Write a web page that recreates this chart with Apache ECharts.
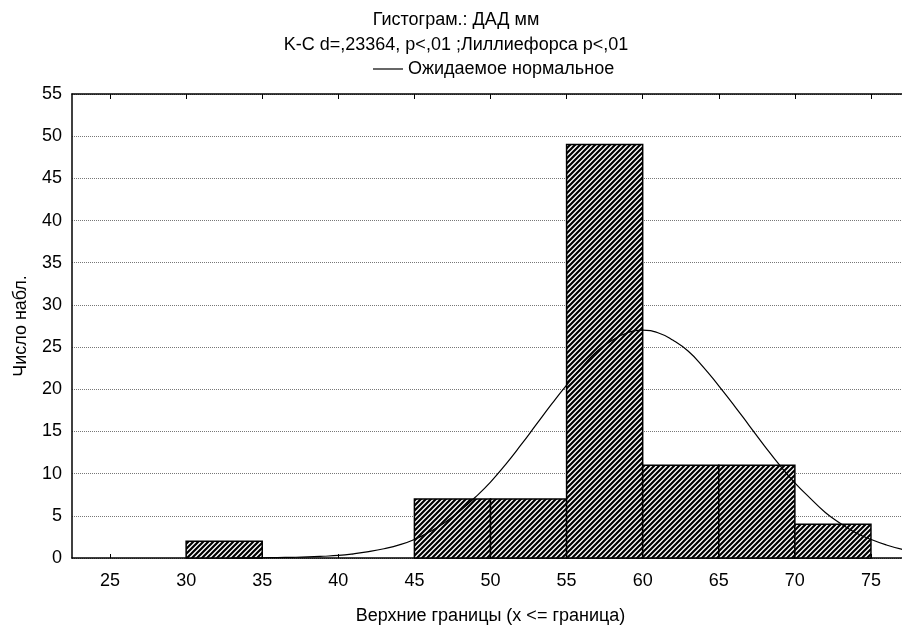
<!DOCTYPE html>
<html>
<head>
<meta charset="utf-8">
<script src="https://cdn.jsdelivr.net/npm/echarts@6/dist/echarts.min.js"></script>
<style>
  html, body { margin: 0; padding: 0; background: #fff; }
  #chart { width: 902px; height: 628px; }
</style>
</head>
<body>
<div id="chart"></div>
<script>
// Histogram bins: lower and upper bounds, observed counts
const binLower = [30, 45, 50, 55, 60, 65, 70];
const binUpper = [35, 50, 55, 60, 65, 70, 75];
const binCounts = [2, 7, 7, 49, 11, 11, 4];

// Expected normal curve (x, expected count)
const curveX = [33, 34, 35, 36, 37, 38, 39, 40, 41, 42, 43, 44, 45, 46, 47, 48, 49, 50,
                51, 52, 53, 54, 55, 56, 57, 58, 59, 60, 61, 62, 63, 64, 65, 66, 67, 68,
                69, 70, 71, 72, 73, 74, 75, 76, 77, 78];
const curveY = [0.0, 0.01, 0.02, 0.05, 0.08, 0.13, 0.21, 0.31, 0.5, 0.76, 1.1, 1.55, 2.2, 3.1, 4.2, 5.6, 7.2, 9.0,
                11.1, 13.4, 15.8, 18.2, 20.5, 22.6, 24.5, 25.8, 26.7, 27.0, 26.7, 25.8, 24.5, 22.6, 20.4, 18.1, 15.7, 13.3,
                11.0, 8.9, 7.1, 5.4, 4.1, 3.0, 2.2, 1.55, 1.05, 0.7];

// Axis ticks
const xTicks = [25, 30, 35, 40, 45, 50, 55, 60, 65, 70, 75];

const titleLines = ['Гистограм.: ДАД мм', 'K-C d=,23364, p<,01 ;Лиллиефорса p<,01'];
const legendName = 'Ожидаемое нормальное';
const xName = 'Верхние границы (x <= граница)';
const yName = 'Число набл.';

const FONT = '"Liberation Sans", Arial, sans-serif';

// Diagonal hatch fill for the bars
function makeHatch() {
  const c = document.createElement('canvas');
  c.width = 5; c.height = 5;
  const g = c.getContext('2d');
  g.fillStyle = '#fff';
  g.fillRect(0, 0, 5, 5);
  g.strokeStyle = '#000';
  g.lineWidth = 2.2;
  g.beginPath();
  g.moveTo(0, 5); g.lineTo(5, 0);
  g.moveTo(-1, 1); g.lineTo(1, -1);
  g.moveTo(4, 6); g.lineTo(6, 4);
  g.stroke();
  return c;
}
const hatch = makeHatch();

const binData = binLower.map((lo, i) => [lo, binUpper[i], binCounts[i]]);
const curveData = curveX.map((x, i) => [x, curveY[i]]);

const chart = echarts.init(document.getElementById('chart'), null, { renderer: 'canvas' });

chart.setOption({
  backgroundColor: '#fff',
  animation: false,
  title: {
    text: titleLines.join('\n'),
    left: 451,
    top: 3,
    textAlign: 'center',
    textStyle: { fontFamily: FONT, fontSize: 18, fontWeight: 'normal', color: '#000', lineHeight: 25 }
  },
  legend: {
    data: [legendName],
    left: 368,
    top: 55,
    icon: 'rect',
    itemWidth: 30,
    itemHeight: 1.2,
    textStyle: { fontFamily: FONT, fontSize: 18, color: '#000' }
  },
  grid: { left: 72, top: 94, width: 837, height: 464, containLabel: false, outerBoundsMode: 'none' },
  xAxis: [
    {
      type: 'value',
      min: 22.5,
      max: 77.5,
      position: 'bottom',
      name: xName,
      nameLocation: 'middle',
      nameGap: 49,
      nameTextStyle: { fontFamily: FONT, fontSize: 18, color: '#000' },
      axisLine: { show: true, onZero: false, lineStyle: { color: '#000', width: 1.5 } },
      axisTick: { show: true, inside: true, length: 4, customValues: xTicks, lineStyle: { color: '#000', width: 1 } },
      axisLabel: { customValues: xTicks, margin: 14, fontFamily: FONT, fontSize: 18, color: '#000' },
      splitLine: { show: false }
    },
    {
      type: 'value',
      min: 22.5,
      max: 77.5,
      position: 'top',
      axisLine: { show: true, onZero: false, lineStyle: { color: '#000', width: 1.5 } },
      axisTick: { show: true, inside: true, length: 5, customValues: xTicks, lineStyle: { color: '#000', width: 1 } },
      axisLabel: { show: false },
      splitLine: { show: false }
    }
  ],
  yAxis: {
    type: 'value',
    min: 0,
    max: 55,
    interval: 5,
    name: yName,
    nameLocation: 'middle',
    nameGap: 42,
    nameRotate: 90,
    nameTextStyle: { fontFamily: FONT, fontSize: 18, color: '#000' },
    axisLine: { show: true, lineStyle: { color: '#000', width: 1.5 } },
    axisTick: { show: false },
    axisLabel: { margin: 10, fontFamily: FONT, fontSize: 18, color: '#000' },
    splitLine: { show: true, lineStyle: { color: '#777', width: 1, type: [1, 1] } }
  },
  series: [
    {
      name: 'Гистограмма',
      type: 'custom',
      xAxisIndex: 0,
      z: 2,
      renderItem: function (params, api) {
        const p0 = api.coord([api.value(0), 0]);
        const p1 = api.coord([api.value(1), api.value(2)]);
        return {
          type: 'rect',
          shape: { x: p0[0], y: p1[1], width: p1[0] - p0[0], height: p0[1] - p1[1] },
          style: { fill: { image: hatch, repeat: 'repeat' }, stroke: '#000', lineWidth: 1.5 }
        };
      },
      encode: { x: [0, 1], y: 2 },
      data: binData
    },
    {
      name: legendName,
      type: 'line',
      xAxisIndex: 0,
      z: 5,
      smooth: 0.5,
      symbol: 'none',
      lineStyle: { color: '#000', width: 1.2 },
      itemStyle: { color: '#000' },
      data: curveData
    }
  ]
});
</script>
</body>
</html>
